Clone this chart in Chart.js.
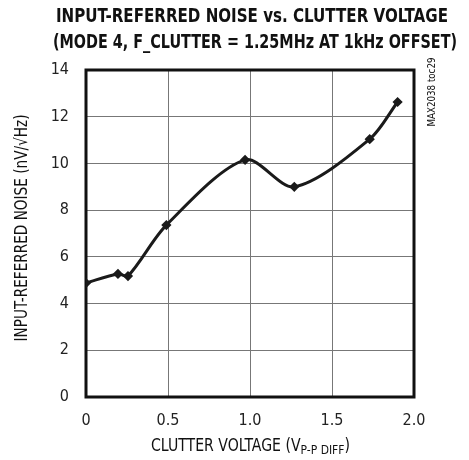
<!DOCTYPE html>
<html>
<head>
<meta charset="utf-8">
<script src="https://cdn.jsdelivr.net/npm/chart.js@4"></script>
<style>
  html, body { margin: 0; padding: 0; background: #fff; }
  #wrap { width: 469px; height: 460px; }
</style>
</head>
<body>
<div id="wrap"><canvas id="noiseChart" width="469" height="460"></canvas></div>
<script>
// Data
const clutterVoltage = [0, 0.195, 0.256, 0.49, 0.97, 1.27, 1.73, 1.90];
const noiseValues    = [4.88, 5.27, 5.18, 7.36, 10.15, 9.0, 11.04, 12.63];
const xTicks = [0, 0.5, 1.0, 1.5, 2.0];
const yTicks = [0, 2, 4, 6, 8, 10, 12, 14];

const titleLines = [
  "INPUT-REFERRED NOISE vs. CLUTTER VOLTAGE",
  "(MODE 4, F_CLUTTER = 1.25MHz AT 1kHz OFFSET)"
];
const yTitle = "INPUT-REFERRED NOISE (nV/\u221AHz)";
const tocLabel = "MAX2038 toc29";

const cond = "'DejaVu Sans Condensed', 'Liberation Sans', sans-serif";

// draw text squeezed horizontally so it fills a given width
function fillFit(ctx, text, cx, cy, width) {
  const w = ctx.measureText(text).width;
  ctx.save();
  ctx.translate(cx, cy);
  ctx.scale(width / w, 1);
  ctx.textAlign = 'center';
  ctx.fillText(text, 0, 0);
  ctx.restore();
}

// Titles, frame and side text
const decorations = {
  id: 'decorations',
  beforeDatasetsDraw(chart) {
    const { ctx, chartArea: a } = chart;
    ctx.save();
    ctx.strokeStyle = '#111';
    ctx.lineWidth = 3;
    ctx.strokeRect(a.left, a.top, a.right - a.left, a.bottom - a.top);
    ctx.restore();
  },
  afterDraw(chart) {
    const { ctx, chartArea: a } = chart;
    ctx.save();
    ctx.fillStyle = '#111';
    ctx.textBaseline = 'middle';

    // main title
    ctx.font = "bold 19px " + cond;
    fillFit(ctx, titleLines[0], 252, 17, 392);
    fillFit(ctx, titleLines[1], 255, 43, 404);

    // y axis title
    ctx.font = "17px " + cond;
    ctx.save();
    ctx.translate(23, 228);
    ctx.rotate(-Math.PI / 2);
    fillFit(ctx, yTitle, 0, 0, 227);
    ctx.restore();

    // x axis title with subscript
    const main = "CLUTTER VOLTAGE (V";
    const sub = "P-P DIFF";
    const close = ")";
    ctx.font = "17px " + cond;
    const w1 = ctx.measureText(main).width;
    const w3 = ctx.measureText(close).width;
    ctx.font = "13px " + cond;
    const w2 = ctx.measureText(sub).width;
    const total = w1 + w2 + w3;
    const k = 199 / total;
    ctx.save();
    ctx.translate(151, 0);
    ctx.scale(k, 1);
    ctx.textAlign = 'left';
    ctx.font = "17px " + cond;
    ctx.fillText(main, 0, 447);
    ctx.font = "13px " + cond;
    ctx.fillText(sub, w1, 451);
    ctx.font = "17px " + cond;
    ctx.fillText(close, w1 + w2, 447);
    ctx.restore();

    // figure tag
    ctx.font = "10px " + cond;
    ctx.save();
    ctx.translate(432, 92);
    ctx.rotate(-Math.PI / 2);
    fillFit(ctx, tocLabel, 0, 0, 69);
    ctx.restore();
    ctx.restore();
  }
};

new Chart(document.getElementById('noiseChart'), {
  type: 'scatter',
  data: {
    datasets: [{
      data: clutterVoltage.map((v, i) => ({ x: v, y: noiseValues[i] })),
      showLine: true,
      borderColor: '#1a1a1a',
      backgroundColor: '#1a1a1a',
      borderWidth: 3,
      tension: 0.3,
      pointStyle: 'rectRot',
      pointRadius: 3,
      pointHoverRadius: 3
    }]
  },
  options: {
    responsive: false,
    animation: false,
    layout: { padding: { left: 0, top: 70, right: 55, bottom: 0 } },
    plugins: {
      legend: { display: false },
      title: { display: false },
      tooltip: { enabled: false }
    },
    scales: {
      x: {
        type: 'linear',
        min: 0,
        max: 2,
        afterBuildTicks(scale) { scale.ticks = xTicks.map(v => ({ value: v })); },
        afterFit(scale) { scale.height = 63; },
        grid: { color: '#777', lineWidth: 1, drawTicks: false },
        border: { display: false },
        ticks: {
          padding: 14,
          color: '#222',
          font: { family: cond, size: 16 },
          callback: v => (v === 0 ? '0' : v.toFixed(1))
        }
      },
      y: {
        min: 0,
        max: 14,
        afterBuildTicks(scale) { scale.ticks = yTicks.map(v => ({ value: v })); },
        afterFit(scale) { scale.width = 86; },
        grid: { color: '#777', lineWidth: 1, drawTicks: false },
        border: { display: false },
        ticks: {
          padding: 17,
          color: '#222',
          font: { family: cond, size: 16 }
        }
      }
    }
  },
  plugins: [decorations]
});
</script>
</body>
</html>
